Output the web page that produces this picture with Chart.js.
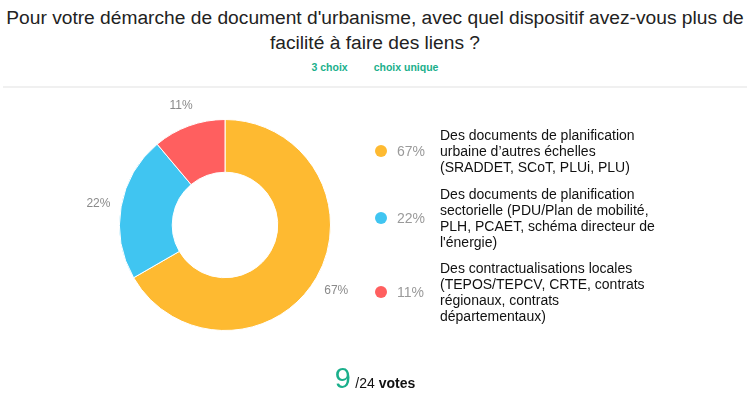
<!DOCTYPE html>
<html><head><meta charset="utf-8">
<script src="https://cdn.jsdelivr.net/npm/chart.js@4"></script>
<style>
html,body{margin:0;padding:0}
body{width:750px;height:396px;background:#fff;font-family:"Liberation Sans",Arial,sans-serif;position:relative;overflow:hidden}
#title{position:absolute;left:0;top:5px;width:750px;text-align:center;font-size:19.2px;line-height:25px;color:#222;white-space:nowrap}
#sub{position:absolute;left:0;top:61px;width:750px;text-align:center;font-size:10.5px;font-weight:bold;color:#1aaf8b;white-space:nowrap}
#sub span{margin:0 13px}
#rule{position:absolute;left:3px;top:86px;width:744px;height:2px;background:#f0f0f0}
#chartBox{position:absolute;left:65px;top:75px;width:320px;height:300px}
#legend{position:absolute;left:375px;top:127px}
.item{display:flex;align-items:center;margin-bottom:10.5px}
.dot{width:12px;height:12px;border-radius:50%;margin-right:10px;flex:none}
.pct{width:43px;font-size:14px;color:#9a9a9a;flex:none}
.txt{font-size:14px;line-height:16px;color:#111}
#votes{position:absolute;left:0;top:362px;width:750px;text-align:center;color:#111}
#votes .n{font-size:29px;color:#1aaf8b;vertical-align:baseline}
#votes .t{font-size:14px}
</style></head>
<body>
<div id="title">Pour votre démarche de document d'urbanisme, avec quel dispositif avez-vous plus de<br>facilité à faire des liens ?</div>
<div id="sub"><span>3 choix</span><span>choix unique</span></div>
<div id="rule"></div>
<div id="chartBox"><canvas id="c"></canvas></div>
<div id="legend"></div>
<div id="votes"><span class="n">9</span> <span class="t">/24 <b>votes</b></span></div>
<script>
const categories = [
  ["Des documents de planification", "urbaine d\u2019autres échelles", "(SRADDET, SCoT, PLUi, PLU)"],
  ["Des documents de planification", "sectorielle (PDU/Plan de mobilité,", "PLH, PCAET, schéma directeur de", "l'énergie)"],
  ["Des contractualisations locales", "(TEPOS/TEPCV, CRTE, contrats", "régionaux, contrats", "départementaux)"]
];
const votes = [6, 2, 1];
const percents = [67, 22, 11];
const colors = ["#FEBA31", "#40C5F1", "#FF5F5F"];

const leg = document.getElementById('legend');
categories.forEach((lines, i) => {
  const it = document.createElement('div'); it.className = 'item';
  const d = document.createElement('div'); d.className = 'dot'; d.style.background = colors[i];
  const p = document.createElement('div'); p.className = 'pct'; p.textContent = percents[i] + '%';
  const t = document.createElement('div'); t.className = 'txt'; t.innerHTML = lines.join('<br>');
  it.appendChild(d); it.appendChild(p); it.appendChild(t); leg.appendChild(it);
});

const outLabels = {
  id: 'outLabels',
  afterDatasetsDraw(chart) {
    const ctx = chart.ctx;
    const meta = chart.getDatasetMeta(0);
    ctx.save();
    ctx.font = '12px "Liberation Sans", Arial, sans-serif';
    ctx.fillStyle = '#8a8a8a';
    ctx.textAlign = 'center';
    ctx.textBaseline = 'middle';
    meta.data.forEach((arc, i) => {
      const p = arc.getProps(['x', 'y', 'startAngle', 'endAngle', 'outerRadius'], true);
      const mid = (p.startAngle + p.endAngle) / 2;
      const r = p.outerRadius + 23;
      ctx.fillText(percents[i] + '%', p.x + Math.cos(mid) * r, p.y + Math.sin(mid) * r + 1);
    });
    ctx.restore();
  }
};

new Chart(document.getElementById('c'), {
  type: 'doughnut',
  data: {
    labels: categories.map(l => l.join(' ')),
    datasets: [{ data: votes, backgroundColor: colors, borderColor: '#ffffff', borderWidth: 1, hoverOffset: 0 }]
  },
  options: {
    responsive: true,
    maintainAspectRatio: false,
    animation: false,
    cutout: '50%',
    layout: { padding: 44 },
    plugins: { legend: { display: false }, tooltip: { enabled: false } }
  },
  plugins: [outLabels]
});
</script>
</body></html>
